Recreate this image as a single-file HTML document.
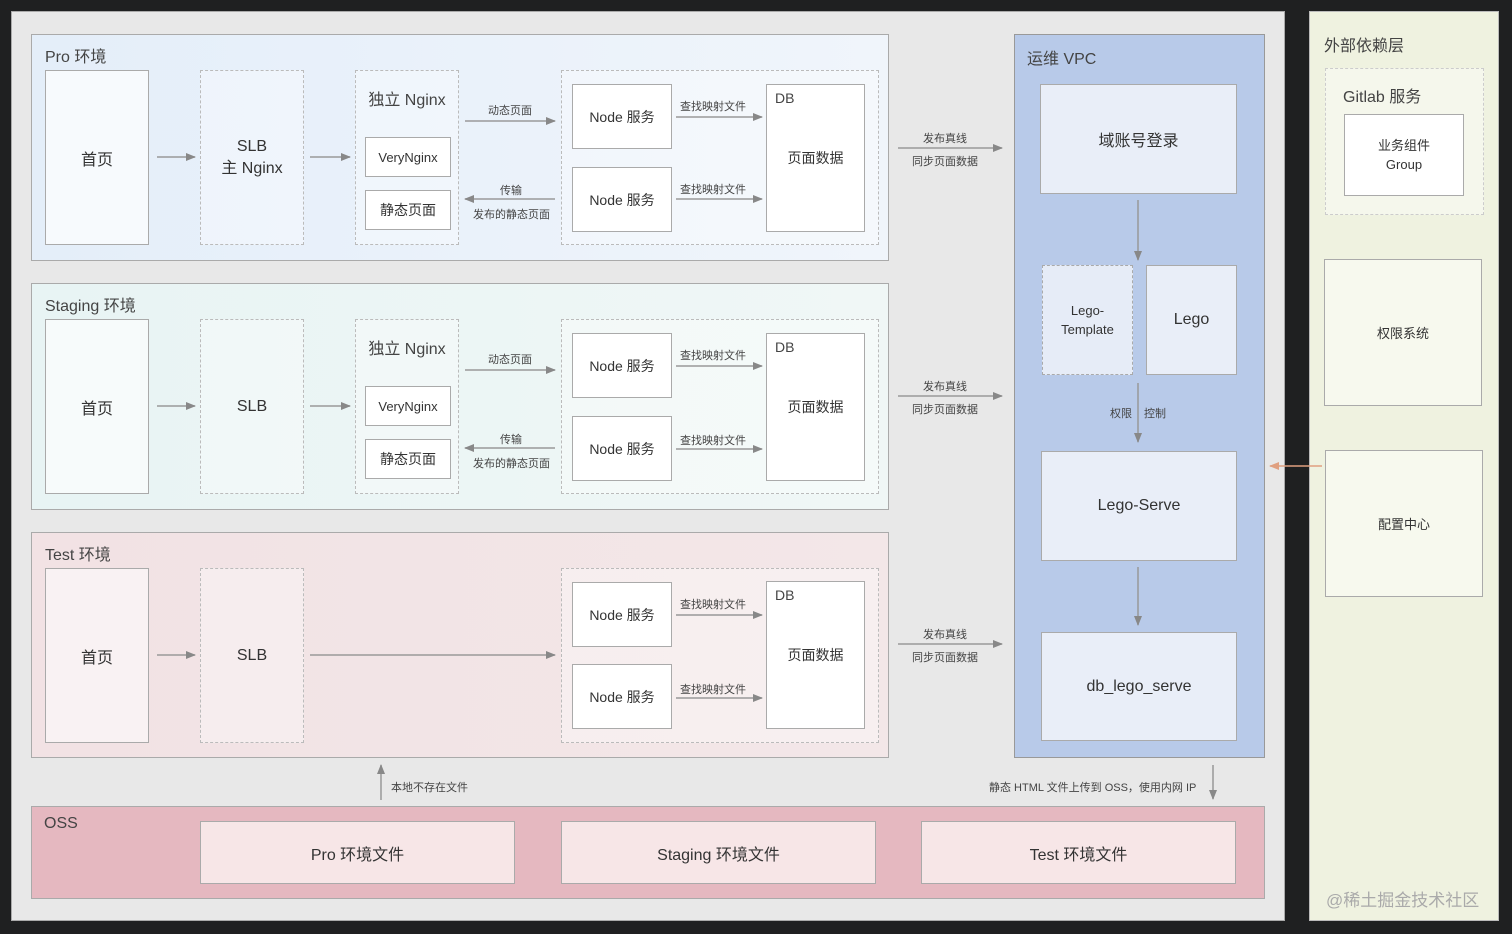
<!DOCTYPE html>
<html><head><meta charset="utf-8"><style>
*{margin:0;padding:0;box-sizing:border-box}
body{width:1512px;height:934px;background:#1f2021;position:relative;overflow:hidden;font-family:"Liberation Sans","Noto Sans CJK SC",sans-serif;color:#333}
div{position:absolute}
.b{border:1.5px solid #aaa;background:#fff;display:flex;align-items:center;justify-content:center;text-align:center;font-size:15px;color:#333}
.d{border:1.5px dashed #bbb;background:rgba(255,255,255,.35);display:flex;align-items:center;justify-content:center;text-align:center;font-size:16px;color:#333}
.env{border:1.5px solid #aaa}
.lbl{font-size:16px;color:#444;white-space:nowrap}
.s{font-size:11px;color:#444;white-space:nowrap}
</style></head><body>
<div style="left:11px;top:11px;width:1274px;height:910px;background:#e8e8e8;border:1px solid #aaa"></div>
<div style="left:1309px;top:11px;width:190px;height:910px;background:#eff2e0;border:1px solid #bbb"></div>

<!-- Pro -->
<div class="env" style="left:31px;top:34px;width:858px;height:227px;background:linear-gradient(90deg,#e4eef9,#f0f5fb)"></div>
<div class="lbl" style="left:45px;top:43px">Pro 环境</div>
<div class="b" style="left:45px;top:70px;width:104px;height:175px;background:#f7fafd;font-size:16px">首页</div>
<div class="d" style="left:200px;top:70px;width:104px;height:175px;line-height:22px">SLB<br>主 Nginx</div>
<div class="d" style="left:355px;top:70px;width:104px;height:175px"></div>
<div class="lbl" style="left:355px;top:86px;width:104px;text-align:center">独立 Nginx</div>
<div class="b" style="left:365px;top:137px;width:86px;height:40px;font-size:13px">VeryNginx</div>
<div class="b" style="left:365px;top:190px;width:86px;height:40px;font-size:14px">静态页面</div>
<div class="d" style="left:561px;top:70px;width:318px;height:175px"></div>
<div class="b" style="left:572px;top:84px;width:100px;height:65px;font-size:14px">Node 服务</div>
<div class="b" style="left:572px;top:167px;width:100px;height:65px;font-size:14px">Node 服务</div>
<div class="b" style="left:766px;top:84px;width:99px;height:148px;font-size:14px">页面数据</div>
<div class="lbl" style="left:775px;top:90px;font-size:14px">DB</div>
<div class="s" style="left:488px;top:102px">动态页面</div>
<div class="s" style="left:500px;top:182px">传输</div>
<div class="s" style="left:473px;top:206px">发布的静态页面</div>
<div class="s" style="left:680px;top:98px">查找映射文件</div>
<div class="s" style="left:680px;top:181px">查找映射文件</div>
<div class="s" style="left:923px;top:130px">发布真线</div>
<div class="s" style="left:912px;top:153px">同步页面数据</div>

<!-- Staging -->
<div class="env" style="left:31px;top:283px;width:858px;height:227px;background:linear-gradient(90deg,#e8f4f4,#f0f7f6)"></div>
<div class="lbl" style="left:45px;top:292px">Staging 环境</div>
<div class="b" style="left:45px;top:319px;width:104px;height:175px;background:#f7fbfb;font-size:16px">首页</div>
<div class="d" style="left:200px;top:319px;width:104px;height:175px">SLB</div>
<div class="d" style="left:355px;top:319px;width:104px;height:175px"></div>
<div class="lbl" style="left:355px;top:335px;width:104px;text-align:center">独立 Nginx</div>
<div class="b" style="left:365px;top:386px;width:86px;height:40px;font-size:13px">VeryNginx</div>
<div class="b" style="left:365px;top:439px;width:86px;height:40px;font-size:14px">静态页面</div>
<div class="d" style="left:561px;top:319px;width:318px;height:175px"></div>
<div class="b" style="left:572px;top:333px;width:100px;height:65px;font-size:14px">Node 服务</div>
<div class="b" style="left:572px;top:416px;width:100px;height:65px;font-size:14px">Node 服务</div>
<div class="b" style="left:766px;top:333px;width:99px;height:148px;font-size:14px">页面数据</div>
<div class="lbl" style="left:775px;top:339px;font-size:14px">DB</div>
<div class="s" style="left:488px;top:351px">动态页面</div>
<div class="s" style="left:500px;top:431px">传输</div>
<div class="s" style="left:473px;top:455px">发布的静态页面</div>
<div class="s" style="left:680px;top:347px">查找映射文件</div>
<div class="s" style="left:680px;top:432px">查找映射文件</div>
<div class="s" style="left:923px;top:378px">发布真线</div>
<div class="s" style="left:912px;top:401px">同步页面数据</div>

<!-- Test -->
<div class="env" style="left:31px;top:532px;width:858px;height:226px;background:linear-gradient(90deg,#f2e2e4,#f3e7e8)"></div>
<div class="lbl" style="left:45px;top:541px">Test 环境</div>
<div class="b" style="left:45px;top:568px;width:104px;height:175px;background:#f9f2f3;font-size:16px">首页</div>
<div class="d" style="left:200px;top:568px;width:104px;height:175px">SLB</div>
<div class="d" style="left:561px;top:568px;width:318px;height:175px"></div>
<div class="b" style="left:572px;top:582px;width:100px;height:65px;font-size:14px">Node 服务</div>
<div class="b" style="left:572px;top:664px;width:100px;height:65px;font-size:14px">Node 服务</div>
<div class="b" style="left:766px;top:581px;width:99px;height:148px;font-size:14px">页面数据</div>
<div class="lbl" style="left:775px;top:587px;font-size:14px">DB</div>
<div class="s" style="left:680px;top:596px">查找映射文件</div>
<div class="s" style="left:680px;top:681px">查找映射文件</div>
<div class="s" style="left:923px;top:626px">发布真线</div>
<div class="s" style="left:912px;top:649px">同步页面数据</div>

<!-- VPC -->
<div style="left:1014px;top:34px;width:251px;height:724px;background:#b8cae9;border:1.5px solid #999"></div>
<div class="lbl" style="left:1027px;top:45px">运维 VPC</div>
<div class="b" style="left:1040px;top:84px;width:197px;height:110px;background:#e9eef8;font-size:16px">域账号登录</div>
<div class="d" style="left:1042px;top:265px;width:91px;height:110px;background:#e6ecf7;font-size:13px;line-height:19px;border-color:#aaa">Lego-<br>Template</div>
<div class="b" style="left:1146px;top:265px;width:91px;height:110px;background:#e9eef8;font-size:16px">Lego</div>
<div class="s" style="left:1110px;top:405px">权限</div>
<div class="s" style="left:1144px;top:405px">控制</div>
<div class="b" style="left:1041px;top:451px;width:196px;height:110px;background:#e9eef8;font-size:16px">Lego-Serve</div>
<div class="b" style="left:1041px;top:632px;width:196px;height:109px;background:#e9eef8;font-size:16px">db_lego_serve</div>

<!-- external -->
<div class="lbl" style="left:1324px;top:32px">外部依赖层</div>
<div class="d" style="left:1325px;top:68px;width:159px;height:147px;background:#f5f7ec;border-color:#ccc"></div>
<div class="lbl" style="left:1343px;top:83px">Gitlab 服务</div>
<div class="b" style="left:1344px;top:114px;width:120px;height:82px;font-size:13px;line-height:19px">业务组件<br>Group</div>
<div class="b" style="left:1324px;top:259px;width:158px;height:147px;background:#f7f9ee;font-size:13px">权限系统</div>
<div class="b" style="left:1325px;top:450px;width:158px;height:147px;background:#f7f9ee;font-size:13px">配置中心</div>
<div style="left:1326px;top:886px;font-size:17px;color:#aaa;white-space:nowrap">@稀土掘金技术社区</div>

<!-- OSS -->
<div style="left:31px;top:806px;width:1234px;height:93px;background:#e5b8c0;border:1.5px solid #aaa"></div>
<div class="lbl" style="left:44px;top:815px">OSS</div>
<div class="b" style="left:200px;top:821px;width:315px;height:63px;background:#f7e6e7;font-size:16px">Pro 环境文件</div>
<div class="b" style="left:561px;top:821px;width:315px;height:63px;background:#f7e6e7;font-size:16px">Staging 环境文件</div>
<div class="b" style="left:921px;top:821px;width:315px;height:63px;background:#f7e6e7;font-size:16px">Test 环境文件</div>
<div class="s" style="left:391px;top:779px">本地不存在文件</div>
<div class="s" style="left:989px;top:779px">静态 HTML 文件上传到 OSS，使用内网 IP</div>

<svg width="1512" height="934" style="position:absolute;left:0;top:0">
<defs><marker id="a" markerWidth="10" markerHeight="10" refX="9" refY="5" orient="auto" markerUnits="userSpaceOnUse"><path d="M0,1 L10,5 L0,9z" fill="#888"/></marker>
<marker id="o" markerWidth="10" markerHeight="10" refX="9" refY="5" orient="auto" markerUnits="userSpaceOnUse"><path d="M0,1 L10,5 L0,9z" fill="#e0a080"/></marker></defs>
<g stroke="#999" stroke-width="1.5" fill="none" marker-end="url(#a)">
<path d="M157,157H195"/><path d="M310,157H350"/><path d="M465,121H555"/><path d="M555,199H465"/><path d="M676,117H762"/><path d="M676,199H762"/><path d="M898,148H1002"/>
<path d="M157,406H195"/><path d="M310,406H350"/><path d="M465,370H555"/><path d="M555,448H465"/><path d="M676,366H762"/><path d="M676,449H762"/><path d="M898,396H1002"/>
<path d="M157,655H195"/><path d="M310,655H555"/><path d="M676,615H762"/><path d="M676,698H762"/><path d="M898,644H1002"/>
<path d="M1138,200V260"/><path d="M1138,383V442"/><path d="M1138,567V625"/>
<path d="M381,800V765"/><path d="M1213,765V799"/>
</g>
<path d="M1322,466H1270" stroke="#e0a080" stroke-width="1.5" marker-end="url(#o)"/>
</svg>
</body></html>
